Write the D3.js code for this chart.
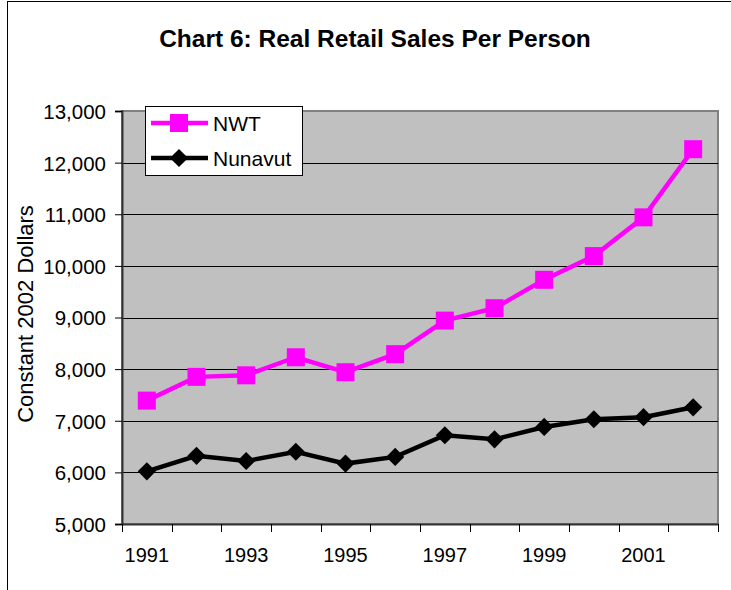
<!DOCTYPE html>
<html>
<head>
<meta charset="utf-8">
<script src="https://cdn.jsdelivr.net/npm/d3@7"></script>
<style>
  body { margin: 0; background: #fff; }
  text { font-family: "Liberation Sans", Arial, sans-serif; fill: #000; }
</style>
</head>
<body>
<div id="chart"></div>
<script>
// data
let years = ["1991","1992","1993","1994","1995","1996","1997","1998","1999","2000","2001","2002"]
let nwt = [7390, 7850, 7880, 8230, 7940, 8290, 8940, 9180, 9730, 10190, 10940, 12260]
let nunavut = [6020, 6320, 6220, 6400, 6170, 6300, 6720, 6640, 6880, 7030, 7070, 7260]
let yTicks = [5000, 6000, 7000, 8000, 9000, 10000, 11000, 12000, 13000]
let xLabels = ["1991","1993","1995","1997","1999","2001"]

let svg = d3.select("#chart").append("svg")
  .attr("width", 731).attr("height", 590)

// outer chart frame
svg.append("rect").attr("x", 7.5).attr("y", 1.5).attr("width", 740).attr("height", 620)
  .style("fill", "none").style("stroke", "#000").style("stroke-width", 1)

let plotL = 122, plotR = 718, plotT = 111, plotB = 524

let x = d3.scaleBand().domain(years).range([plotL, plotR])
let y = d3.scaleLinear().domain([5000, 13000]).range([plotB, plotT])

// plot area
svg.append("rect").attr("x", plotL).attr("y", plotT).attr("width", plotR - plotL).attr("height", plotB - plotT)
  .style("fill", "#c0c0c0").style("stroke", "#808080").style("stroke-width", 2)

// gridlines
svg.append("g").selectAll("line").data(yTicks.slice(1, -1)).join("line")
  .attr("x1", plotL).attr("x2", plotR)
  .attr("y1", d => Math.round(y(d)) + 0.5).attr("y2", d => Math.round(y(d)) + 0.5)
  .style("stroke", "#000").style("stroke-width", 1)

// y axis
let yAxis = svg.append("g").attr("transform", `translate(${plotL},0)`)
  .call(d3.axisLeft(y).tickValues(yTicks).tickFormat(d3.format(",")).tickSize(7).tickPadding(9))
yAxis.select(".domain").style("stroke", "#333").style("stroke-width", 2)
yAxis.selectAll(".tick line").style("stroke", "#000")
yAxis.selectAll("text").style("font-size", "20.5px").style("font-family", "'Liberation Sans', Arial, sans-serif").attr("dy", "0.36em")

// x axis, ticks on category boundaries
let xAxis = svg.append("g").attr("transform", `translate(0,${plotB})`)
  .call(d3.axisBottom(x).tickValues([]).tickSizeOuter(0))
xAxis.select(".domain").style("stroke", "#333").style("stroke-width", 2)
let bounds = years.map(d => x(d)).concat([plotR])
xAxis.selectAll(".bnd").data(bounds).join("line").attr("class", "bnd")
  .attr("x1", d => Math.round(d) + 0.5).attr("x2", d => Math.round(d) + 0.5)
  .attr("y1", 0).attr("y2", 8).style("stroke", "#000")
xAxis.selectAll(".lbl").data(xLabels).join("text").attr("class", "lbl")
  .attr("x", d => x(d) + x.bandwidth() / 2).attr("y", 38)
  .attr("text-anchor", "middle").style("font-size", "20px")
  .style("font-family", "'Liberation Sans', Arial, sans-serif").text(d => d)

// titles
svg.append("text").attr("x", 375).attr("y", 47).attr("text-anchor", "middle")
  .style("font-size", "24.5px").style("font-weight", "bold").text("Chart 6: Real Retail Sales Per Person")
svg.append("text").attr("transform", `translate(33,314) rotate(-90)`)
  .attr("text-anchor", "middle").style("font-size", "22px").text("Constant 2002 Dollars")

let line = d3.line().x((d, i) => x(years[i]) + x.bandwidth() / 2).y(d => y(d))

// NWT
svg.append("path").datum(nwt).attr("d", line)
  .style("fill", "none").style("stroke", "#ff00ff").style("stroke-width", 4.5)
svg.append("g").selectAll("rect").data(nwt).join("rect")
  .attr("x", (d, i) => x(years[i]) + x.bandwidth() / 2 - 9)
  .attr("y", d => y(d) - 9)
  .attr("width", 18).attr("height", 18).style("fill", "#ff00ff")

// Nunavut
svg.append("path").datum(nunavut).attr("d", line)
  .style("fill", "none").style("stroke", "#000").style("stroke-width", 4.5)
let diamond = d3.symbol().type(d3.symbolDiamond2).size(210)
svg.append("g").selectAll("path").data(nunavut).join("path")
  .attr("transform", (d, i) => `translate(${x(years[i]) + x.bandwidth() / 2},${y(d)})`)
  .attr("d", diamond).style("fill", "#000")

// legend
let legend = svg.append("g")
legend.append("rect").attr("x", 145.5).attr("y", 106.5).attr("width", 157).attr("height", 69)
  .style("fill", "#fff").style("stroke", "#000")
legend.append("line").attr("x1", 151).attr("x2", 208).attr("y1", 123).attr("y2", 123)
  .style("stroke", "#ff00ff").style("stroke-width", 4.5)
legend.append("rect").attr("x", 170).attr("y", 114).attr("width", 18).attr("height", 18).style("fill", "#ff00ff")
legend.append("text").attr("x", 213).attr("y", 131).style("font-size", "21px").text("NWT")
legend.append("line").attr("x1", 151).attr("x2", 208).attr("y1", 158).attr("y2", 158)
  .style("stroke", "#000").style("stroke-width", 4.5)
legend.append("path").attr("transform", "translate(179,158)").attr("d", diamond).style("fill", "#000")
legend.append("text").attr("x", 213).attr("y", 166).style("font-size", "21px").text("Nunavut")
</script>
</body>
</html>
